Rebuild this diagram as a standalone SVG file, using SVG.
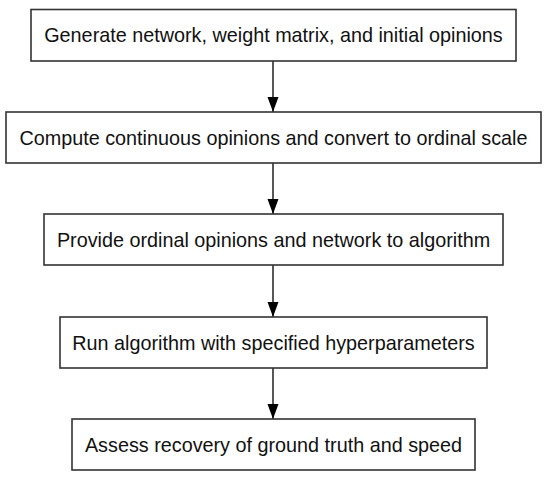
<svg xmlns="http://www.w3.org/2000/svg" width="550" height="482" viewBox="0 0 550 482">
<style>
.box{fill:#fff;stroke:#333;stroke-width:1.6}
.lbl{font-family:"Liberation Sans",Arial,sans-serif;font-size:19.8px;fill:#111;text-anchor:middle}
.edge{stroke:#111;stroke-width:1.4;fill:none}
.head{fill:#000}
</style>
<rect width="550" height="482" fill="#fff"/>
<g id="connectors">
<path class="edge" d="M273,61 V112"/>
<path class="head" d="M267.5,97 L278.5,97 L273,112 Z"/>
<path class="edge" d="M273,163 V214"/>
<path class="head" d="M267.5,199 L278.5,199 L273,214 Z"/>
<path class="edge" d="M273,265 V317"/>
<path class="head" d="M267.5,302 L278.5,302 L273,317 Z"/>
<path class="edge" d="M273,368 V419"/>
<path class="head" d="M267.5,404 L278.5,404 L273,419 Z"/>
</g>
<g id="n1"><rect class="box" x="31" y="9.5" width="485" height="51.5"/><text class="lbl" x="273.5" y="42">Generate network, weight matrix, and initial opinions</text></g>
<g id="n2"><rect class="box" x="6" y="112" width="535" height="51"/><text class="lbl" x="273.5" y="144.5">Compute continuous opinions and convert to ordinal scale</text></g>
<g id="n3"><rect class="box" x="44" y="214" width="459" height="51"/><text class="lbl" x="273.5" y="246.5">Provide ordinal opinions and network to algorithm</text></g>
<g id="n4"><rect class="box" x="60" y="317" width="427" height="51"/><text class="lbl" x="273.5" y="349.5">Run algorithm with specified hyperparameters</text></g>
<g id="n5"><rect class="box" x="72" y="419" width="403" height="51"/><text class="lbl" x="273.5" y="451.5">Assess recovery of ground truth and speed</text></g>
</svg>
